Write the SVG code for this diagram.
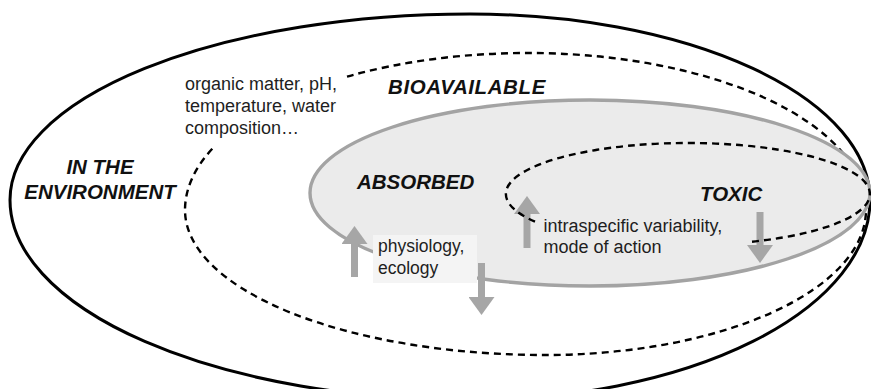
<svg xmlns="http://www.w3.org/2000/svg" width="871" height="389" viewBox="0 0 871 389">
  <style>
    .bg { fill: #ffffff; }
    .outer { fill: none; stroke: #000; stroke-width: 3; }
    .dashed { fill: none; stroke: #000; stroke-width: 2.4; stroke-dasharray: 7 5; }
    .absorbed { fill: #ebebeb; stroke: #a3a3a3; stroke-width: 3.4; }
    .label { font-family: "Liberation Sans", Arial, sans-serif; font-weight: bold; font-style: italic; font-size: 20.5px; fill: #111; }
    .note { font-family: "Liberation Sans", Arial, sans-serif; font-size: 18px; fill: #1e1e1e; }
    .arrow { stroke: #a6a6a6; stroke-width: 7; fill: none; marker-end: url(#ah); }
  </style>
  <defs>
    <marker id="ah" viewBox="0 0 18 26" refX="1" refY="13" markerWidth="18" markerHeight="26" markerUnits="userSpaceOnUse" orient="auto">
      <path d="M0,0 L18,13 L0,26 Z" fill="#a6a6a6"/>
    </marker>
  </defs>
  <rect class="bg" x="0" y="0" width="871" height="389"/>

  <g id="environment">
    <path class="outer" d="M 10,200 A 460,186 0 0 1 470,14 A 400,186 0 0 1 870,200 A 400,200 0 0 1 470,400 A 460,200 0 0 1 10,200 Z"/>
    <text class="label" x="100" y="173.5" text-anchor="middle">IN THE</text>
    <text class="label" x="100" y="198.5" text-anchor="middle">ENVIRONMENT</text>
  </g>

  <g id="bioavailable">
    <path class="dashed" d="M 347,76.6 A 343,157 0 0 1 528,53 A 338,157 0 0 1 866,210 A 321,145 0 0 1 545,355 A 360,145 0 0 1 185,210 A 343,157 0 0 1 213,148"/>
    <text class="label" x="388" y="93.5" style="letter-spacing:0.6px">BIOAVAILABLE</text>
  </g>

  <g id="bioavailability-factors">
    <text class="note" x="185" y="90">organic matter, pH,</text>
    <text class="note" x="185" y="112">temperature, water</text>
    <text class="note" x="185" y="133.5">composition…</text>
  </g>

  <g id="absorbed">
    <ellipse class="absorbed" cx="590" cy="193" rx="280" ry="93"/>
    <text class="label" x="357" y="189">ABSORBED</text>
  </g>

  <g id="absorption-factors">
    <rect x="373" y="235" width="104" height="48" fill="#f4f4f4"/>
    <text class="note" x="378" y="251.5" style="font-size:17.5px">physiology,</text>
    <text class="note" x="378" y="273.5" style="font-size:17.5px">ecology</text>
  </g>

  <g id="connectors">
    <line class="arrow" x1="354.5" y1="277" x2="354.5" y2="243"/>
    <line class="arrow" x1="481.5" y1="263" x2="481.5" y2="298"/>
    <line class="arrow" x1="527" y1="248" x2="527" y2="213"/>
    <line class="arrow" x1="760" y1="212" x2="760" y2="246"/>
  </g>

  <g id="toxic">
    <path class="dashed" d="M 752,241.7 A 182,51 0 1 0 538,222.9"/>
    <text class="label" x="700" y="200.5">TOXIC</text>
  </g>

  <g id="toxicity-factors">
    <text class="note" x="543.5" y="231.5">intraspecific variability,</text>
    <text class="note" x="543.5" y="253">mode of action</text>
  </g>
</svg>
